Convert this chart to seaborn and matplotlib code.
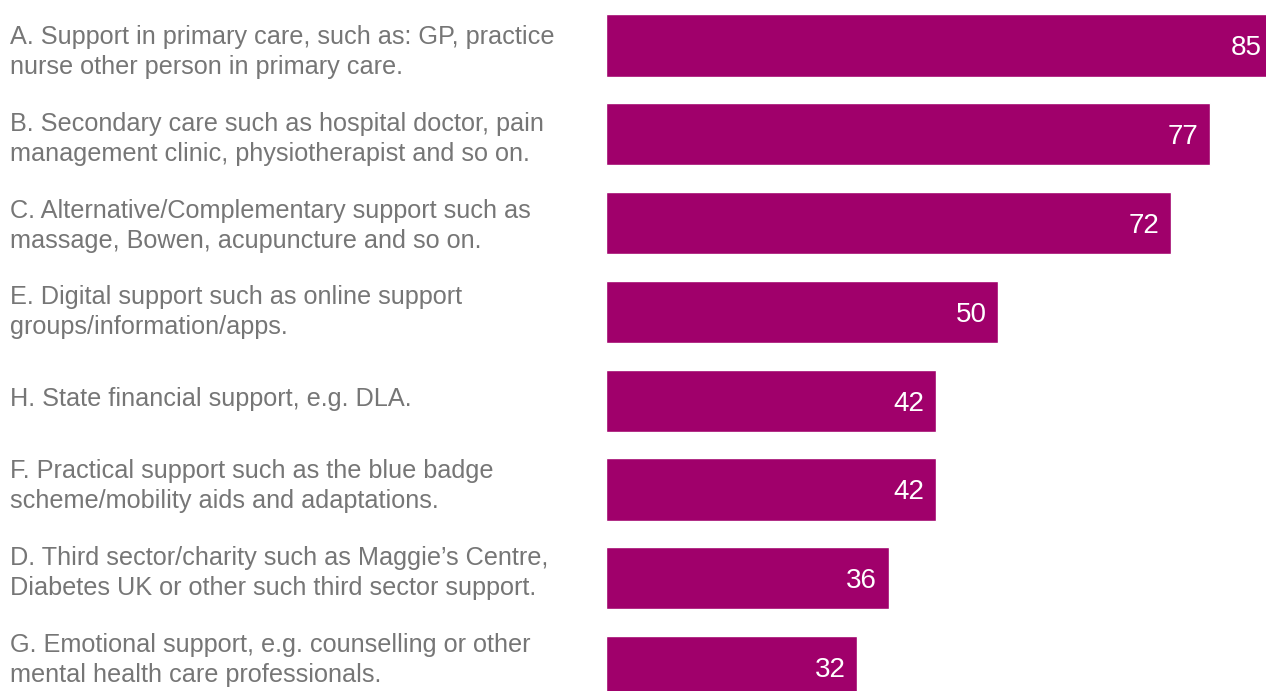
import matplotlib
matplotlib.use("Agg")
import matplotlib.pyplot as plt
import seaborn as sns
import pandas as pd

categories = [
    "A. Support in primary care, such as: GP, practice\nnurse other person in primary care.",
    "B. Secondary care such as hospital doctor, pain\nmanagement clinic, physiotherapist and so on.",
    "C. Alternative/Complementary support such as\nmassage, Bowen, acupuncture and so on.",
    "E. Digital support such as online support\ngroups/information/apps.",
    "H. State financial support, e.g. DLA.",
    "F. Practical support such as the blue badge\nscheme/mobility aids and adaptations.",
    "D. Third sector/charity such as Maggie\u2019s Centre,\nDiabetes UK or other such third sector support.",
    "G. Emotional support, e.g. counselling or other\nmental health care professionals.",
]
values = [85, 77, 72, 50, 42, 42, 36, 32]

df = pd.DataFrame({"category": categories, "value": values})

sns.set_theme(style="white")
plt.rcParams["font.family"] = ["Liberation Sans", "DejaVu Sans"]

W, H = 1266, 691
fig = plt.figure(figsize=(W / 100, H / 100), dpi=100)
ax = fig.add_axes([606 / W, 0.0, 1 - 606 / W, 1.0])

sns.barplot(data=df, x="value", y="category", orient="h", color="#A0006B",
            saturation=1, width=0.7, ax=ax)

ax.set_xlim(0, 84.1)
ax.set_ylim(7.27, -0.512)
ax.set_xlabel("")
ax.set_ylabel("")
ax.set_xticks([])
ax.set_yticks([])
for s in ax.spines.values():
    s.set_visible(False)

for i, v in enumerate(values):
    ax.annotate(str(v), xy=(v, i), xytext=(-8.5, 0), textcoords="offset points",
                ha="right", va="center_baseline", color="white", fontsize=20,
                annotation_clip=False)

# category labels: left column, slightly tighter vertical rhythm than bars
for i, c in enumerate(categories):
    fig.text(10 / W, 1 - (52 + 86.8 * i) / H, c,
             ha="left", va="center", color="#767676", fontsize=18.2,
             linespacing=1.32)

fig.savefig("out.png", dpi=100)
